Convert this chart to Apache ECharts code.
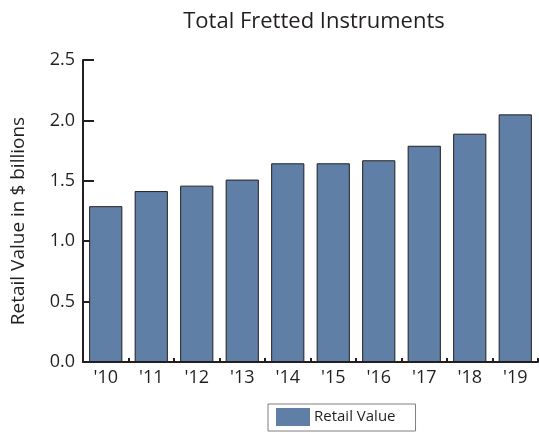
<!DOCTYPE html>
<html><head><meta charset="utf-8">
<script src="https://cdn.jsdelivr.net/npm/echarts@6/dist/echarts.min.js"></script>
<style>html,body{margin:0;padding:0;background:#fff}#c{width:539px;height:433px}</style>
</head><body><div id="c"></div>
<script>
const categories = ["'10","'11","'12","'13","'14","'15","'16","'17","'18","'19"];
const retailValue = [1.29, 1.415, 1.46, 1.51, 1.645, 1.645, 1.67, 1.79, 1.89, 2.05];
const titleText = "Total Fretted Instruments";
const yAxisName = "Retail Value in $ billions";
const seriesName = "Retail Value";
const FONT = "Open Sans";
const chart = echarts.init(document.getElementById('c'), null, {renderer:'canvas'});
chart.setOption({
  animation:false,
  backgroundColor:'#fff',
  title:{text:titleText,left:309,top:6,textAlign:'center',textStyle:{fontFamily:FONT,fontSize:22,fontWeight:'normal',color:'#231f20'}},
  legend:{data:[seriesName],left:268,top:404,orient:'horizontal',borderColor:'#7f7f7f',borderWidth:1,padding:[4,20,5,8],itemWidth:34,itemHeight:18,itemGap:5,icon:'rect',
    itemStyle:{borderWidth:0},
    textStyle:{fontFamily:FONT,fontSize:15,color:'#231f20',padding:[0,0,0,-1]}},
  grid:{left:83,right:1,top:60,bottom:71,containLabel:false},
  xAxis:{type:'category',data:categories,
    axisLine:{lineStyle:{color:'#231f20',width:2}},
    axisTick:{show:true,inside:true,length:4,lineStyle:{color:'#231f20',width:2}},
    axisLabel:{fontFamily:FONT,fontSize:18,color:'#231f20',margin:7}},
  yAxis:{type:'value',min:0,max:2.5,interval:0.5,name:yAxisName,nameLocation:'middle',nameGap:55,
    nameTextStyle:{fontFamily:FONT,fontSize:19,color:'#231f20',padding:[0,20,0,0]},
    axisLine:{show:true,lineStyle:{color:'#231f20',width:2}},
    axisTick:{show:true,inside:true,length:11,lineStyle:{color:'#231f20',width:2}},
    splitLine:{show:false},
    axisLabel:{fontFamily:FONT,fontSize:18,color:'#231f20',margin:8,formatter:v=>v.toFixed(1)}},
  series:[{name:seriesName,type:'bar',data:retailValue,barCategoryGap:'27%',
    itemStyle:{color:'#5f7fa6',borderColor:'#231f20',borderWidth:1}}]
});
</script></body></html>
